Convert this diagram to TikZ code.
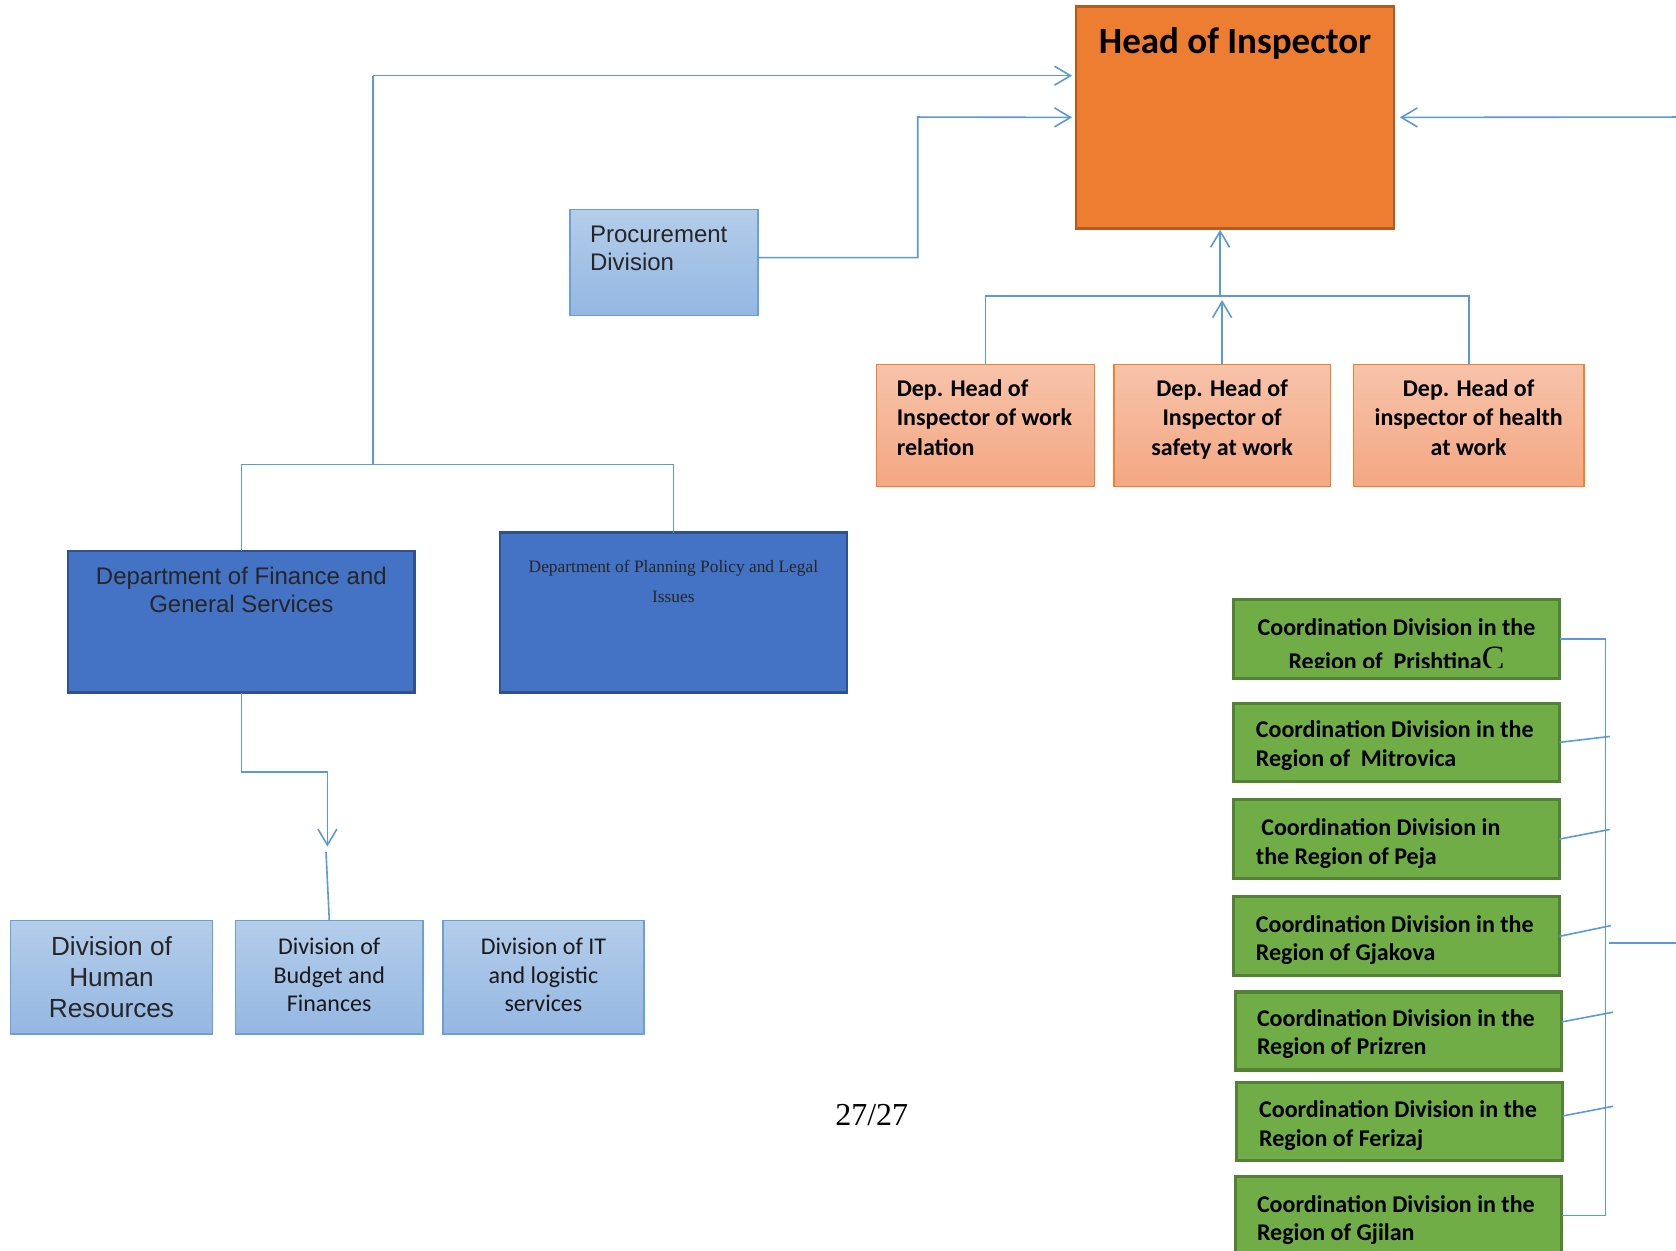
\documentclass[tikz,border=0pt]{standalone}
\usepackage{fontspec}
\setmainfont{Liberation Serif}
\newfontfamily\calib{Carlito}
\newfontfamily\arialf{Liberation Sans}
\newfontfamily\timesf{Liberation Serif}
\usetikzlibrary{arrows.meta,fit,calc}
\definecolor{connc}{HTML}{5B9BD5}
\definecolor{headfill}{HTML}{ED7D31}
\definecolor{headdraw}{HTML}{B85A1E}
\definecolor{deptop}{HTML}{F7C3AA}
\definecolor{depbot}{HTML}{F4A782}
\definecolor{depdraw}{HTML}{F08133}
\definecolor{lbtop}{HTML}{B4CDEA}
\definecolor{lbbot}{HTML}{94B7E2}
\definecolor{lbdraw}{HTML}{6A9FD8}
\definecolor{dbfill}{HTML}{4472C4}
\definecolor{dbdraw}{HTML}{2F528F}
\definecolor{grfill}{HTML}{70AD47}
\definecolor{grdraw}{HTML}{538135}
\definecolor{darktxt}{HTML}{262626}
\begin{document}
\begin{tikzpicture}[x=0.5345pt,y=-0.5345pt,
  bx/.style={rectangle, inner sep=0pt, outer sep=0pt},
  headbox/.style={bx, fill=headfill, draw=headdraw, line width=1.3pt},
  depbox/.style={bx, top color=deptop, bottom color=depbot, draw=depdraw, line width=0.8pt},
  lbbox/.style={bx, top color=lbtop, bottom color=lbbot, draw=lbdraw, line width=0.8pt},
  dbbox/.style={bx, fill=dbfill, draw=dbdraw, line width=1.3pt},
  grbox/.style={bx, fill=grfill, draw=grdraw, line width=1.6pt},
  conn/.style={draw=connc, line width=0.8pt},
  arr/.style={conn, -{Straight Barb[length=8pt,width=9.5pt]}},
  txt/.style={inner sep=0pt, outer sep=0pt},
  calb/.style={txt, font=\calib\bfseries\fontsize{12}{14.2}\selectfont},
  depb/.style={txt, font=\calib\bfseries\fontsize{12}{14.7}\selectfont},
  calr/.style={txt, font=\calib\fontsize{12}{14.4}\selectfont, text=black!90},
  arl/.style={txt, font=\arialf\fontsize{12}{13.9}\selectfont, text=darktxt}
]
\clip (0,0) rectangle (1568,1170);
\fill[white] (0,0) rectangle (1568,1170);

% ---------- boxes ----------
\node[headbox, fit={(1006.7,6.2) (1304,213.5)}] (head) {};
\node[lbbox, fit={(533,196) (709,295)}] (proc) {};
\node[depbox, fit={(820,341) (1024,455.3)}] (dep1) {};
\node[depbox, fit={(1042,341) (1244.7,455.3)}] (dep2) {};
\node[depbox, fit={(1266.4,341) (1482,455.3)}] (dep3) {};
\node[dbbox, fit={(63.7,515.5) (387.8,648)}] (fin) {};
\node[dbbox, fit={(467.6,498.3) (792.5,648)}] (plan) {};
\node[lbbox, fit={(9.8,861.3) (198.8,967.5)}] (hr) {};
\node[lbbox, fit={(220.5,861.3) (395.7,967.5)}] (bud) {};
\node[lbbox, fit={(414.2,861.3) (602.5,967.5)}] (it) {};
\node[grbox, fit={(1154,561) (1459,635)}] (g1) {};
\node[grbox, fit={(1154,658) (1459,731)}] (g2) {};
\node[grbox, fit={(1154,748) (1459,822)}] (g3) {};
\node[grbox, fit={(1154,839) (1459,913)}] (g4) {};
\node[grbox, fit={(1155.6,928) (1461,1001)}] (g5) {};
\node[grbox, fit={(1157,1013) (1462,1086)}] (g6) {};
\node[grbox, fit={(1155.6,1101) (1461,1173)}] (g7) {};

% ---------- texts (anchor = baseline of the last line) ----------
\node[txt, anchor=base, font=\calib\bfseries\fontsize{18.5}{22}\selectfont] (headT) at (1155.5,50) {Head of Inspector};
\node[arl, anchor=base west, align=left] (procT) at (552,252.6) {Procurement\\Division};
\node[depb, anchor=base west, align=left] (dep1T) at (839,426) {Dep. Head of\\Inspector of work\\relation};
\node[depb, anchor=base, align=center] (dep2T) at (1143.4,426) {Dep. Head of\\Inspector of\\safety at work};
\node[depb, anchor=base, align=center] (dep3T) at (1374,426) {Dep. Head of\\inspector of health\\at work};
\node[arl, anchor=base, align=center] (finT) at (225.8,573) {Department of Finance and\\General Services};
\node[txt, anchor=base, align=center, text=darktxt, font=\timesf\fontsize{8.7}{15}\selectfont] (planT) at (630,564) {Department of Planning Policy and Legal\\Issues};
\node[txt, anchor=base, align=center, text=darktxt, font=\arialf\fontsize{13.1}{15.5}\selectfont] (hrT) at (104.3,951.5) {Division of\\Human\\Resources};
\node[calr, anchor=base, align=center] (budT) at (308,946.6) {Division of\\Budget and\\Finances};
\node[calr, anchor=base, align=center] (itT) at (508.4,946.6) {Division of IT\\and logistic\\services};

\begin{scope}
\clip (1154,561) rectangle (1459,624.5);
\node[txt, font=\calib\bfseries\fontsize{12}{17}\selectfont, anchor=base, align=center] (g1T) at (1306.5,626.5) {Coordination Division in the\\Region of\ \ Prishtina{\timesf\mdseries\fontsize{17}{17}\selectfont C}};
\end{scope}
\node[calb, anchor=base west, align=left] (g2T) at (1175,717) {Coordination Division in the\\Region of\ \ Mitrovica};
\node[calb, anchor=base west, align=left] (g3T) at (1175,808.5) {\hspace*{2.7pt}Coordination Division in\\the Region of Peja};
\node[calb, anchor=base west, align=left] (g4T) at (1175,899) {Coordination Division in the\\Region of Gjakova};
\node[calb, anchor=base west, align=left] (g5T) at (1176,987) {Coordination Division in the\\Region of Prizren};
\node[calb, anchor=base west, align=left] (g6T) at (1178,1072.5) {Coordination Division in the\\Region of Ferizaj};
\node[calb, anchor=base west, align=left] (g7T) at (1176,1161) {Coordination Division in the\\Region of Gjilan};

\node[txt, anchor=base, font=\timesf\fontsize{16}{18}\selectfont] (pageT) at (815.6,1052.5) {27/27};

% ---------- connectors ----------
\coordinate (tl) at (349,70.8);
\coordinate (lj) at (349,434.5);
\coordinate (pv) at (858.6,109.5);
\coordinate (redge) at (1568,109.5);
\coordinate (hb) at (1141.5,277);
\coordinate (fd) at (306.3,722);
\coordinate (ftip) at (306.3,792);
\coordinate (fgap) at (305,797);
\coordinate (gv) at (1502,598);
\coordinate (m2) at (1506,689);
\coordinate (m3) at (1506,776);
\coordinate (m4) at (1507,866);
\coordinate (m5) at (1509,947);
\coordinate (m6) at (1509,1035);
\coordinate (go1) at (1505,882);
\coordinate (go2) at (1568,882);

% to Head of Inspector
\draw[arr, shorten >=2pt] (tl) -- (tl -| head.west);
\draw[arr, shorten >=2pt] ([yshift=2.4pt]proc.east) -| (pv) -- (head.west);
\draw[arr, shorten >=3pt] (redge) -- (head.east);
\draw[arr, shorten >=0.8pt] (hb) -- (hb |- head.south);

% deputy heads
\draw[conn] (dep1.north) -- (dep1.north |- hb) -- (dep3.north |- hb) -- (dep3.north);
\draw[arr, shorten >=2pt] (dep2.north) -- (dep2.north |- hb);

% left tree
\draw[conn] (tl) -- (lj);
\draw[conn] (fin.north) -- (fin.north |- lj) -- (plan.north |- lj) -- (plan.north);
\draw[arr] (fin.south) |- (fd) -- (ftip);
\draw[conn] (fgap) -- (bud.north);

% green coordination bracket
\draw[conn] (g1.east) -- (g1.east -| gv) -- (g7.east -| gv) -- (g7.east);
\draw[conn] (g2.east) -- (m2);
\draw[conn] (g3.east) -- (m3);
\draw[conn] (g4.east) -- (m4);
\draw[conn] ([yshift=4.5pt]g5.east) -- (m5);
\draw[conn] ([yshift=2.9pt]g6.east) -- (m6);
\draw[conn] (go1) -- (go2);
\end{tikzpicture}
\end{document}
